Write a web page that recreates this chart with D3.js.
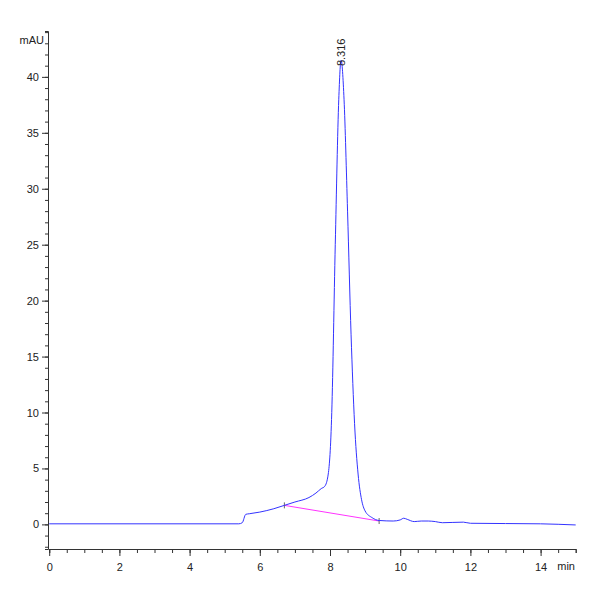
<!DOCTYPE html><html><head><meta charset="utf-8"><script src="https://cdn.jsdelivr.net/npm/d3@7"></script>
<style>body{margin:0;background:#fff}text{font-family:"Liberation Sans Narrow","Liberation Sans",Arial,sans-serif;font-size:11px;fill:#222}</style></head><body><svg id="c" width="600" height="600"></svg><script>
const times=[0,5.4,5.5,5.6,5.7,6.0,6.4,6.7,7.0,7.4,7.6,7.75,7.85,7.95,8.05,8.15,8.25,8.316,8.4,8.5,8.6,8.7,8.8,8.9,9.0,9.2,9.4,9.8,10.0,10.1,10.2,10.4,10.6,10.8,11.0,11.2,11.8,12.0,14,15];
const signal=[0.05,0.05,0.15,0.9,0.95,1.1,1.4,1.7,2.0,2.4,2.8,3.2,3.4,4.5,10,25,38,41.5,38,28,17,9,4.5,2.2,1.2,0.6,0.35,0.3,0.4,0.55,0.45,0.25,0.3,0.3,0.25,0.15,0.2,0.1,0.05,-0.05];
const baseT=[6.7,9.4], baseV=[1.7,0.3];
const peakT=8.316, peakLabel="8.316";
const xTicks=[0,2,4,6,8,10,12,14], yTicks=[0,5,10,15,20,25,30,35,40];
const svg=d3.select("#c");
const x=d3.scaleLinear().domain([0,15]).range([49.2,575.7]);
const y=d3.scaleLinear().domain([-2.2,44.1]).range([549,31]);
svg.append("g").attr("transform","translate(0,549)").call(d3.axisBottom(x).tickValues(d3.range(0,15.01,0.5)).tickSize(4).tickFormat(""));
svg.append("g").attr("transform","translate(0,549)").call(d3.axisBottom(x).tickValues(xTicks).tickSize(7).tickFormat(d3.format("d"))).call(g=>g.select(".domain").remove()).selectAll("text").attr("dy","1.1em");
svg.append("g").attr("transform","translate(48,0)").call(d3.axisLeft(y).tickValues(d3.range(-2,44.1,1)).tickSize(3).tickFormat(""));
svg.append("g").attr("transform","translate(48,0)").call(d3.axisLeft(y).tickValues(yTicks).tickSize(6)).call(g=>g.select(".domain").remove());
svg.selectAll(".domain,.tick line").attr("stroke","#333");
svg.selectAll("text").style("font-size","11px").attr("fill","#222");
svg.append("text").attr("x",44).attr("y",44).attr("text-anchor","end").text("mAU");
svg.append("text").attr("x",575).attr("y",570).attr("text-anchor","end").text("min");
svg.append("line").attr("x1",x(baseT[0])).attr("y1",y(baseV[0])).attr("x2",x(baseT[1])).attr("y2",y(baseV[1])).attr("stroke","#ff33ff").attr("stroke-width",1);
baseT.forEach((t,i)=>svg.append("line").attr("x1",x(t)).attr("x2",x(t)).attr("y1",y(baseV[i])-3).attr("y2",y(baseV[i])+3).attr("stroke","#666"));
const line=d3.line().x((d,i)=>x(times[i])).y(d=>y(d)).curve(d3.curveMonotoneX);
svg.append("path").attr("d",line(signal)).attr("fill","none").attr("stroke","#3333ff").attr("stroke-width",1);
svg.append("text").attr("transform",`translate(${x(peakT)},${y(41.5)+6}) rotate(-90)`).attr("dy","0.35em").attr("text-anchor","start").text(peakLabel);
</script></body></html>
